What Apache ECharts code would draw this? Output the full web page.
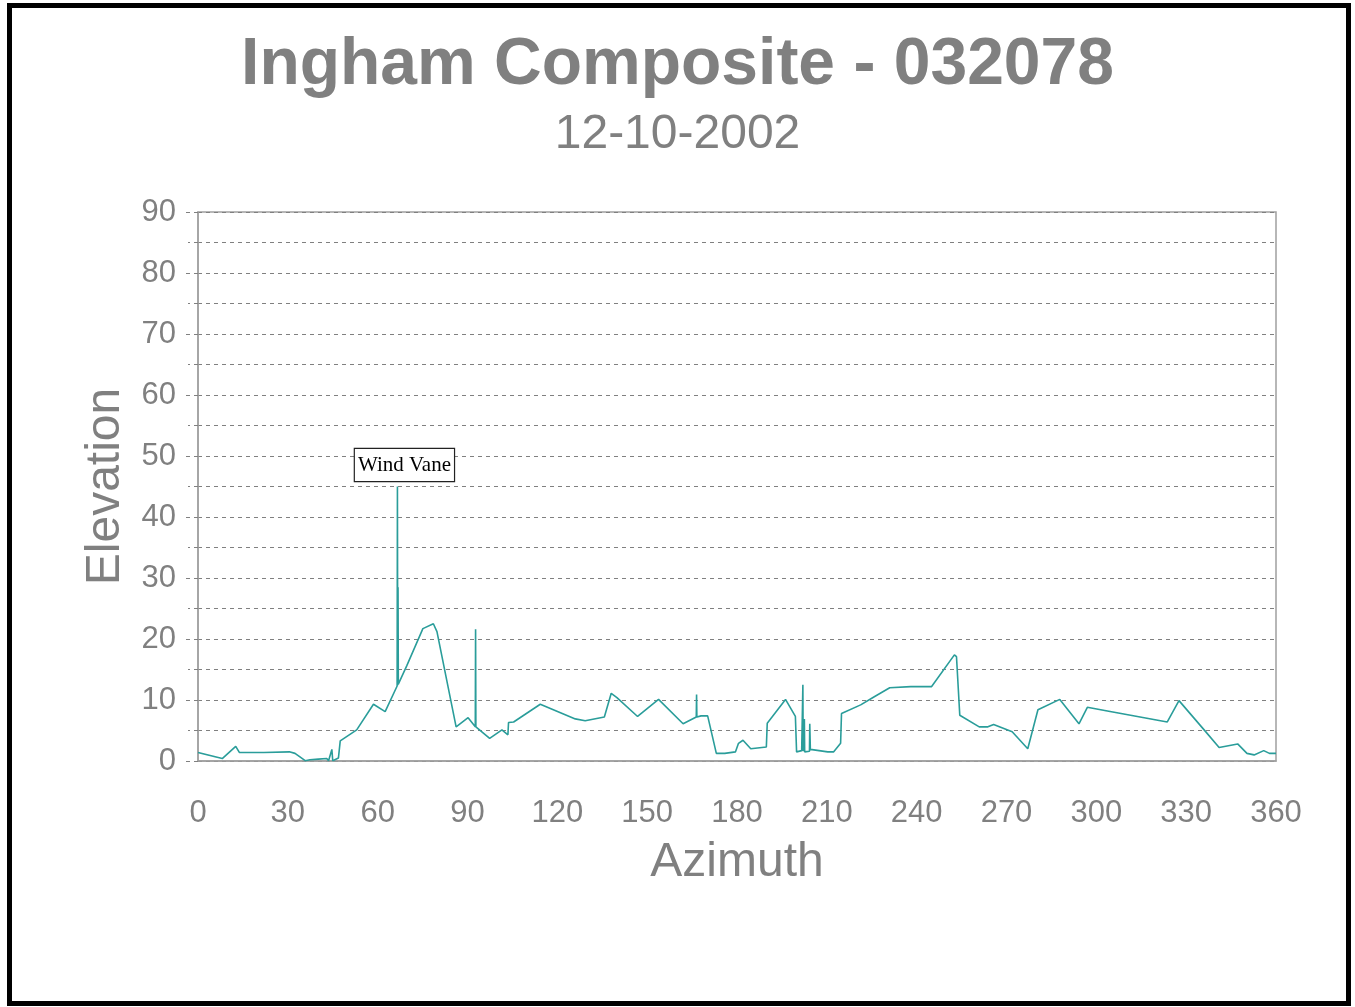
<!DOCTYPE html>
<html>
<head>
<meta charset="utf-8">
<script src="https://cdn.jsdelivr.net/npm/echarts@6/dist/echarts.min.js"></script>
<style>
html,body{margin:0;padding:0;background:#fff;}
#chart{width:1355px;height:1007px;}
</style>
</head>
<body>
<div id="chart"></div>
<script>
var titleText = "Ingham Composite - 032078";
var subTitleText = "12-10-2002";
var xName = "Azimuth";
var yName = "Elevation";
var xTicks = [0, 30, 60, 90, 120, 150, 180, 210, 240, 270, 300, 330, 360];
var yTicks = [0, 10, 20, 30, 40, 50, 60, 70, 80, 90];
var azimuth = [0, 8.1, 12.6, 13.8, 22, 30.5, 32.4, 35.8, 37.4, 40.2, 43.0, 43.6, 44.7, 45.0, 46.9, 47.5, 53.0, 58.6, 62.5,
  66.5, 66.6, 66.7, 66.8, 66.9, 67.3, 69.7, 75.1, 78.6, 79.8, 86.2, 90.2, 92.6, 92.7, 92.8, 97.4, 101.5, 103.5, 103.7,
  105.4, 114.3, 126.0, 129.3, 135.7, 138.0, 139.9, 146.8, 153.8, 162.0, 166.4, 166.5, 166.6, 168.0, 170.2, 173.1,
  175.9, 179.5, 180.5, 182.0, 184.6, 189.8, 190.1, 196.2, 199.5, 199.9, 201.6, 202.0, 202.1, 202.3, 202.5, 202.6,
  202.8, 203.2, 204.2, 204.3, 204.5, 210.3, 212.3, 214.6, 214.9, 221.3, 225.7, 231.0, 238.0, 245.0, 252.6, 253.3,
  254.4, 260.9, 263.8, 265.7, 271.9, 277.1, 280.5, 287.8, 294.2, 297.0, 303.7, 323.7, 327.6, 336.0, 341.0, 347.2,
  350.3, 352.7, 355.9, 357.8, 360];
var elevation = [1.4, 0.4, 2.4, 1.4, 1.4, 1.5, 1.25, 0.05, 0.2, 0.3, 0.4, 0.05, 1.9, 0.05, 0.5, 3.3, 5.1, 9.3, 8.1,
  12.3, 45.0, 12.4, 28.5, 12.6, 12.7, 15.6, 21.7, 22.5, 21.2, 5.6, 7.1, 5.6, 21.6, 5.6, 3.7, 5.1, 4.3, 6.3,
  6.4, 9.3, 6.9, 6.6, 7.2, 11.1, 10.4, 7.3, 10.1, 6.1, 7.2, 10.9, 7.2, 7.4, 7.4, 1.25,
  1.25, 1.5, 2.9, 3.4, 2.0, 2.3, 6.2, 10.1, 7.3, 1.5, 1.7, 12.5, 1.6, 1.6, 6.9, 1.5,
  1.5, 1.5, 1.6, 6.1, 1.9, 1.5, 1.5, 2.9, 7.8, 9.2, 10.5, 12.0, 12.2, 12.2, 17.4, 17.1,
  7.5, 5.6, 5.6, 6.0, 4.8, 2.0, 8.4, 10.1, 6.1, 8.8, 8.2, 6.4, 9.9, 5.1, 2.2, 2.8,
  1.25, 1.0, 1.7, 1.25, 1.25];
var annotationText = "Wind Vane";

var chart = echarts.init(document.getElementById('chart'), null, {renderer: 'canvas'});
var seriesData = azimuth.map(function (a, i) { return [a, elevation[i]]; });
var peakIdx = elevation.indexOf(Math.max.apply(null, elevation));

var gray = '#808080';
chart.setOption({
  animation: false,
  backgroundColor: '#ffffff',
  title: [
    {text: titleText, left: 'center', top: 28,
     textStyle: {fontFamily: 'Liberation Sans', fontSize: 66, fontWeight: 'bold', color: gray}},
    {text: subTitleText, left: 'center', top: 106,
     textStyle: {fontFamily: 'Liberation Sans', fontSize: 48, fontWeight: 'normal', color: gray}}
  ],
  graphic: [
    {type: 'rect', shape: {x: 9.5, y: 5.5, width: 1339, height: 998},
     style: {fill: 'none', stroke: '#000', lineWidth: 5}, z: 100}
  ],
  grid: {left: 198, right: 79, top: 212, bottom: 246, show: true, borderColor: '#a0a0a0', borderWidth: 1.5},
  xAxis: {
    type: 'value', min: xTicks[0], max: xTicks[xTicks.length - 1], interval: 30,
    name: xName, nameLocation: 'middle', nameGap: 78,
    nameTextStyle: {fontFamily: 'Liberation Sans', fontSize: 48, color: gray},
    axisLine: {show: true, lineStyle: {color: '#a0a0a0', width: 1.5}},
    axisTick: {show: false},
    splitLine: {show: false},
    axisLabel: {fontFamily: 'Liberation Sans', fontSize: 31, color: gray, margin: 37}
  },
  yAxis: {
    type: 'value', min: yTicks[0], max: yTicks[yTicks.length - 1], interval: 10,
    name: yName, nameLocation: 'middle', nameGap: 68,
    nameTextStyle: {fontFamily: 'Liberation Sans', fontSize: 48, color: gray},
    axisLine: {show: true, lineStyle: {color: '#a0a0a0', width: 1.5}},
    axisTick: {show: true, length: 15, lineStyle: {color: gray, type: [4, 4], width: 1}},
    minorTick: {show: true, splitNumber: 2, length: 10, lineStyle: {color: gray, type: [4, 4], width: 1}},
    splitLine: {show: true, lineStyle: {color: gray, type: [4, 4], width: 1}},
    minorSplitLine: {show: true, lineStyle: {color: gray, type: [4, 4], width: 1}},
    axisLabel: {fontFamily: 'Liberation Sans', fontSize: 31, color: gray, margin: 22}
  },
  series: [{
    type: 'line',
    data: seriesData,
    showSymbol: false,
    symbol: 'none',
    lineStyle: {color: '#2a9d9a', width: 1.6},
    markPoint: {
      symbol: 'rect', symbolSize: 1,
      itemStyle: {color: 'rgba(0,0,0,0)'},
      data: [{coord: seriesData[peakIdx], name: annotationText}],
      label: {
        show: true, position: 'top', distance: 5, offset: [7, 0],
        formatter: annotationText,
        fontFamily: 'Liberation Serif', fontSize: 21, color: '#000',
        backgroundColor: '#fff', borderColor: '#222', borderWidth: 1.2,
        padding: [6, 3, 5, 3]
      }
    }
  }]
});
</script>
</body>
</html>
